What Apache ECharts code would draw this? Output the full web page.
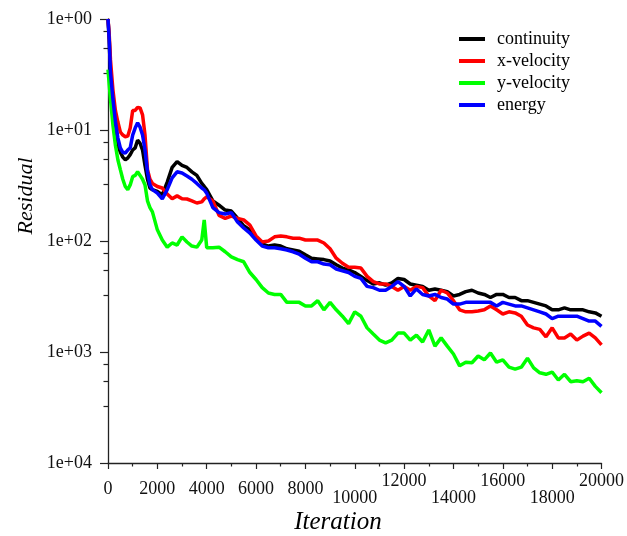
<!DOCTYPE html>
<html><head><meta charset="utf-8">
<script src="https://cdn.jsdelivr.net/npm/echarts@6/dist/echarts.min.js"></script>
<style>html,body{margin:0;padding:0;background:#fff}#c{width:627px;height:536px}</style>
</head><body><div id="c"></div>
<script>
const iterations = [0,50,100,200,300,400,500,600,700,800,900,1000,1100,1200,1300,1400,1500,1600,1700,1800,2000,2200,2400,2600,2800,3000,3200,3400,3600,3800,3900,4000,
4250,4500,4750,5000,5250,5500,5750,6000,6250,6500,6750,7000,7250,7500,7750,8000,8250,8500,8750,9000,9250,9500,9750,10000,
10250,10500,10750,11000,11250,11500,11750,12000,12250,12500,12750,13000,13250,13500,13750,14000,14250,14500,14750,15000,
15250,15500,15750,16000,16250,16500,16750,17000,17250,17500,17750,18000,18250,18500,18750,19000,19250,19500,19750,20000];

const continuity = [1,0.65,0.31,0.19,0.11,0.073,0.063,0.057,0.054,0.056,0.060,0.066,0.069,0.081,0.076,0.066,0.048,0.036,0.030,0.029,0.028,0.026,0.034,0.046,0.052,0.048,0.046,0.042,0.039,0.033,0.031,0.029,
0.023,0.021,0.019,0.0186,0.0161,0.0137,0.0126,0.0106,0.0094,0.0090,0.0092,0.0090,0.0085,0.0083,0.0081,0.0075,0.0070,0.0069,0.0068,0.0066,0.0061,0.0057,0.0055,0.0052,
0.0048,0.0044,0.0041,0.0042,0.0040,0.0042,0.0046,0.0045,0.0041,0.0040,0.0039,0.0036,0.0037,0.0036,0.0035,0.0032,0.0033,0.0035,0.0036,0.0034,
0.0033,0.0031,0.0033,0.0033,0.0031,0.0031,0.0029,0.0029,0.0028,0.0027,0.0026,0.0024,0.0024,0.0025,0.0024,0.0024,0.0024,0.0023,0.00225,0.0021];

const xVelocity = [1,0.72,0.43,0.23,0.15,0.118,0.096,0.090,0.087,0.088,0.104,0.15,0.15,0.16,0.158,0.137,0.090,0.044,0.036,0.033,0.031,0.030,0.0265,0.024,0.0255,0.024,0.0239,0.023,0.022,0.0225,0.024,0.025,
0.023,0.017,0.016,0.0168,0.016,0.0155,0.0139,0.0111,0.0098,0.0100,0.0109,0.0111,0.0109,0.0106,0.0106,0.0102,0.0102,0.0102,0.0096,0.0085,0.0070,0.0063,0.0058,0.0058,
0.0057,0.0048,0.0043,0.0041,0.0041,0.0039,0.0036,0.0039,0.0036,0.0039,0.0038,0.0032,0.0029,0.0036,0.0034,0.0029,0.0024,0.0023,0.0023,0.00234,
0.0024,0.0026,0.0024,0.0022,0.0023,0.00225,0.0021,0.00175,0.00165,0.0016,0.00137,0.00165,0.00134,0.00134,0.00145,0.00128,0.00139,0.00148,0.00134,0.00116];

const yVelocity = [0.35,0.255,0.19,0.11,0.073,0.054,0.044,0.036,0.031,0.029,0.032,0.038,0.039,0.042,0.039,0.036,0.032,0.023,0.020,0.0183,0.0126,0.0102,0.0088,0.0096,0.0092,0.0109,0.0098,0.0090,0.0088,0.0102,0.0155,0.0087,
0.0087,0.0088,0.0080,0.0072,0.0068,0.0065,0.0052,0.0045,0.0038,0.0034,0.0033,0.0033,0.0028,0.0028,0.0028,0.0026,0.0026,0.0029,0.0024,0.0028,0.0024,0.0021,0.0018,0.0023,
0.0021,0.00165,0.00145,0.00128,0.00121,0.00128,0.00148,0.00148,0.00128,0.00142,0.00123,0.00158,0.00113,0.00134,0.00113,0.00096,0.00075,0.00081,0.00080,0.00092,
0.00085,0.00098,0.00081,0.00085,0.00073,0.00070,0.00073,0.00088,0.00072,0.00065,0.00063,0.00066,0.00056,0.00063,0.00054,0.00055,0.00054,0.00058,0.00049,0.00043];

const energy = [1,0.65,0.33,0.19,0.12,0.085,0.069,0.063,0.062,0.066,0.069,0.090,0.104,0.116,0.106,0.090,0.066,0.042,0.032,0.029,0.027,0.024,0.029,0.037,0.042,0.041,0.0385,0.036,0.033,0.030,0.029,0.027,
0.020,0.018,0.0175,0.018,0.0148,0.0131,0.0118,0.0102,0.0090,0.0087,0.0087,0.0085,0.0083,0.0080,0.0076,0.0070,0.0065,0.0065,0.0062,0.0061,0.0056,0.0054,0.0052,0.0048,
0.0046,0.0039,0.0038,0.0036,0.0036,0.0039,0.0043,0.0039,0.0032,0.0037,0.0033,0.0032,0.0033,0.0031,0.0030,0.0027,0.0027,0.0028,0.0028,0.0028,
0.0028,0.0028,0.0026,0.0028,0.0027,0.0026,0.0026,0.0025,0.0024,0.0023,0.0022,0.0020,0.0021,0.0021,0.0021,0.0021,0.0020,0.0019,0.0019,0.0017];

const seriesNames = ['continuity','x-velocity','y-velocity','energy'];
const yTickLabels = ['1e+00','1e+01','1e+02','1e+03','1e+04'];
const xTickLabels = ['0','2000','4000','6000','8000','10000','12000','14000','16000','18000','20000'];

const FONT = 'Liberation Serif';
const colors = ['#000000','#ff0000','#00ff00','#0000ff'];
const seriesData = [continuity, xVelocity, yVelocity, energy];

function rowOf(v) {
  const k = Math.round(v / 2000);
  if (v < 10000) return 'mid';
  return (k % 2 === 1) ? 'low' : 'high';
}
function xAxisFor(row, margin, main) {
  return {
    type: 'value', gridIndex: 0, position: 'bottom', min: 0, max: 20000, interval: 2000,
    axisLine: { show: main, onZero: false, lineStyle: { color: '#222', width: 1.3 } },
    axisTick: { show: main, length: 6, lineStyle: { color: '#222', width: 1.2 } },
    minorTick: { show: main, splitNumber: 2, length: 3.5, lineStyle: { color: '#222', width: 1.2 } },
    splitLine: { show: false },
    axisLabel: {
      show: true, margin: margin, fontFamily: FONT, fontSize: 18, color: '#111',
      showMinLabel: true, showMaxLabel: true,
      formatter: function (v) { return rowOf(v) === row ? xTickLabels[Math.round(v / 2000)] : ''; }
    }
  };
}

const chart = echarts.init(document.getElementById('c'));
chart.setOption({
  animation: false,
  backgroundColor: '#fff',
  grid: { left: 108, right: 25, top: 19, bottom: 73, containLabel: false },
  xAxis: [xAxisFor('mid', 17, true), xAxisFor('high', 9, false), xAxisFor('low', 26, false)],
  yAxis: {
    type: 'log', logBase: 10, min: 0.0001, max: 1, splitNumber: 4,
    axisLine: { show: true, lineStyle: { color: '#222', width: 1.3 } },
    axisTick: { show: true, length: 8, lineStyle: { color: '#222', width: 1.2 } },
    minorTick: { show: true, splitNumber: 4, length: 4.5, lineStyle: { color: '#222', width: 1.2 } },
    splitLine: { show: false },
    axisLabel: {
      margin: 16, fontFamily: FONT, fontSize: 18, color: '#111',
      formatter: function (v) { return yTickLabels[Math.round(-Math.log10(v))]; }
    }
  },
  legend: {
    data: seriesNames, orient: 'vertical', left: 459, top: 29, padding: 0,
    icon: 'rect', itemWidth: 26, itemHeight: 4, itemGap: 2,
    textStyle: { fontFamily: FONT, fontSize: 18, color: '#000', lineHeight: 20, padding: [0, 0, 0, 7] }
  },
  graphic: [
    { type: 'text', x: 338, y: 522, style: { text: 'Iteration', font: 'italic 25px "Liberation Serif"', fill: '#000', align: 'center', verticalAlign: 'middle' } },
    { type: 'text', x: 26, y: 196, rotation: Math.PI / 2, style: { text: 'Residual', font: 'italic 22px "Liberation Serif"', fill: '#000', align: 'center', verticalAlign: 'middle' } }
  ],
  series: seriesNames.map(function (name, i) {
    return {
      name: name, type: 'line', xAxisIndex: 0, yAxisIndex: 0,
      showSymbol: false, symbol: 'none',
      itemStyle: { color: colors[i] },
      lineStyle: { color: colors[i], width: 3.5 },
      data: iterations.map(function (x, j) { return [x, seriesData[i][j]]; })
    };
  })
});
</script></body></html>
